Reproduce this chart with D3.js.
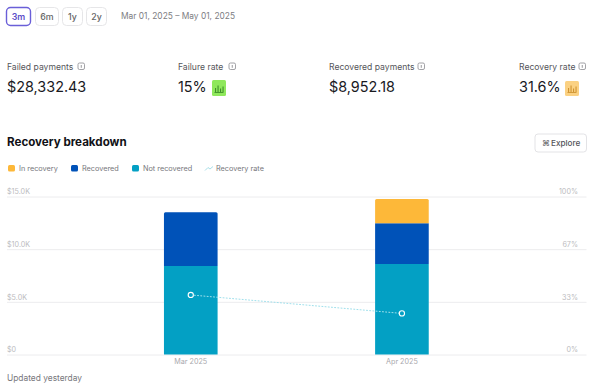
<!DOCTYPE html>
<html>
<head>
<meta charset="utf-8">
<script src="https://cdn.jsdelivr.net/npm/d3@7"></script>
<style>
  html, body { margin: 0; padding: 0; background: #fff; }
  svg { display: block; font-family: Inter, "Noto Sans", sans-serif; }
</style>
</head>
<body>
<svg id="chart" width="600" height="390"></svg>
<script>
// Values
let months = ["Mar 2025", "Apr 2025"];
let notRecovered = [8400, 8590];
let recovered = [5100, 3860];
let inRecovery = [0, 2310];
let recoveryRate = [37.7, 26];

let amountTicks = [0, 5000, 10000, 15000];
let amountLabels = ["$0", "$5.0K", "$10.0K", "$15.0K"];
let rateTicks = [0, 33.33, 66.67, 100];
let rateLabels = ["0%", "33%", "67%", "100%"];

let seriesKeys = ["Not recovered", "Recovered", "In recovery"];
let seriesColors = ["#03a0c4", "#0052b8", "#fdb839"];

let ranges = ["3m", "6m", "1y", "2y"];
let rangeX = [6, 35, 62, 86];
let rangeW = [24, 23, 20, 20];
let metricLabels = ["Failed payments", "Failure rate", "Recovered payments", "Recovery rate"];
let metricValues = ["$28,332.43", "15%", "$8,952.18", "31.6%"];
let metricX = [7, 178, 329, 519];

let legendLabels = ["In recovery", "Recovered", "Not recovered", "Recovery rate"];
let legendColors = ["#fdb839", "#0052b8", "#03a0c4"];
let legendX = [8, 71, 132];

let svg = d3.select("#chart");

function drawText(x, y, str, size, color, weight, anchor) {
    return svg.append("text")
        .attr("x", x).attr("y", y)
        .attr("dy", "0.35em")
        .attr("font-size", size)
        .attr("fill", color)
        .attr("font-weight", weight || 400)
        .attr("text-anchor", anchor || "start")
        .text(str);
}

// Range buttons at the top
ranges.forEach(function(r, i) {
    let active = i === 0;
    svg.append("rect")
        .attr("x", rangeX[i] + 0.5).attr("y", 7.5)
        .attr("width", rangeW[i]).attr("height", 18).attr("rx", 4)
        .attr("fill", "#fff")
        .attr("stroke", active ? "#6a5fd8" : "#e6e6e8")
        .attr("stroke-width", active ? 1.4 : 1);
    drawText(rangeX[i] + rangeW[i] / 2 + 0.5, 16.5, r, 8.8, active ? "#5b4fc9" : "#666", active ? 600 : 500, "middle");
});
drawText(121, 16.5, "Mar 01, 2025 – May 01, 2025", 8.4, "#7d7d82");

// Small info icon next to the metric labels
function infoIcon(x, y) {
    svg.append("rect")
        .attr("x", x).attr("y", y).attr("width", 6.5).attr("height", 6.5).attr("rx", 1.5)
        .attr("fill", "none").attr("stroke", "#8c8c90").attr("stroke-width", 0.8);
    svg.append("line")
        .attr("x1", x + 3.25).attr("x2", x + 3.25).attr("y1", y + 2).attr("y2", y + 4.8)
        .attr("stroke", "#8c8c90").attr("stroke-width", 0.9);
}

// Little bar chart badge next to the rates
function badge(x, y, w, h, bg, fg) {
    svg.append("rect")
        .attr("x", x).attr("y", y).attr("width", w).attr("height", h).attr("rx", 1.5)
        .attr("fill", bg);
    [[3, 4], [5.5, 6.5], [8, 3.5], [10.5, 5.5]].forEach(function(b) {
        svg.append("rect")
            .attr("x", x + b[0]).attr("y", y + h - 4 - b[1])
            .attr("width", 1.1).attr("height", b[1])
            .attr("fill", fg);
    });
    svg.append("rect")
        .attr("x", x + 2.5).attr("y", y + h - 4).attr("width", w - 5).attr("height", 0.9)
        .attr("fill", fg);
}

let infoX = [78, 229, 418, 579];
metricLabels.forEach(function(label, i) {
    drawText(metricX[i], 66.5, label, 8.6, "#55555a", 400);
    drawText(metricX[i], 87, metricValues[i], 14.4, "#1a1a1f", 400);
    infoIcon(infoX[i], 63);
});
badge(212, 80, 14, 16, "#8fe85c", "#3f8f2a");
badge(565, 81, 14, 15, "#fbd182", "#cf9331");

// Section heading and the Explore button
drawText(7, 142, "Recovery breakdown", 11.6, "#111116", 700);
svg.append("rect")
    .attr("x", 535).attr("y", 134).attr("width", 51.5).attr("height", 18).attr("rx", 3)
    .attr("fill", "#fff").attr("stroke", "#e3e3e6");
drawText(542, 143.5, "⌘", 8, "#55555a");
drawText(551, 143.5, "Explore", 8.2, "#55555a", 500);

// Legend
legendColors.forEach(function(c, i) {
    svg.append("rect")
        .attr("x", legendX[i]).attr("y", 165).attr("width", 7).attr("height", 6.5).attr("rx", 1.5)
        .attr("fill", c);
    drawText(legendX[i] + 11, 168.5, legendLabels[i], 7.3, "#77777c");
});
svg.append("path")
    .attr("d", d3.line()(d3.zip([205, 208, 210, 213], [170.5, 167.5, 169, 166.5])))
    .attr("fill", "none").attr("stroke", "#a9dfe8").attr("stroke-width", 1);
drawText(216, 168.5, legendLabels[3], 7.3, "#77777c");

// Scales
let baseY = 354.5, topY = 196.5;
let y = d3.scaleLinear().domain([0, 15000]).range([baseY, topY]);
let yRate = d3.scaleLinear().domain([0, 100]).range([baseY, topY]);
let x = d3.scaleBand().domain(months).range([85.2, 507.5]).paddingInner(0.746).paddingOuter(0.373);

// Left axis gives the gridlines, labels sit above them
let leftAxis = d3.axisRight(y)
    .tickValues(amountTicks)
    .tickSize(579.5)
    .tickFormat(function(d, i) { return amountLabels[i]; });
let gLeft = svg.append("g").attr("transform", "translate(7,0)").call(leftAxis);
gLeft.select(".domain").remove();
gLeft.selectAll(".tick line").attr("stroke", "#ececee");
gLeft.selectAll(".tick text")
    .attr("x", 0).attr("dy", "-0.35em")
    .attr("y", -0.2)
    .attr("text-anchor", "start")
    .attr("font-size", 7.2).attr("font-family", "Inter").attr("fill", "#bcbcc0");

let rightAxis = d3.axisLeft(yRate)
    .tickValues(rateTicks)
    .tickSize(0)
    .tickPadding(0)
    .tickFormat(function(d, i) { return rateLabels[i]; });
let gRight = svg.append("g").attr("transform", "translate(578,0)").call(rightAxis);
gRight.select(".domain").remove();
gRight.selectAll(".tick text")
    .attr("dy", "-0.35em").attr("y", -0.2)
    .attr("font-size", 7.2).attr("font-family", "Inter").attr("fill", "#bcbcc0");

// Stacked bars
let rows = months.map(function(m, i) {
    return { month: m, "Not recovered": notRecovered[i], "Recovered": recovered[i], "In recovery": inRecovery[i] };
});
let stacked = d3.stack().keys(seriesKeys)(rows);

// Only the topmost visible segment gets rounded corners
function barPath(d) {
    let x0 = x(d.data.month), w = x.bandwidth();
    let y0 = y(d[0]), y1 = y(d[1]);
    let isTop = d[1] === d.data["Not recovered"] + d.data["Recovered"] + d.data["In recovery"];
    let r = isTop ? 1.5 : 0;
    return "M" + x0 + "," + y0 + "V" + (y1 + r) + "Q" + x0 + "," + y1 + " " + (x0 + r) + "," + y1 +
        "H" + (x0 + w - r) + "Q" + (x0 + w) + "," + y1 + " " + (x0 + w) + "," + (y1 + r) + "V" + y0 + "Z";
}

svg.selectAll(".layer")
    .data(stacked)
    .enter().append("g")
    .attr("class", "layer")
    .attr("fill", function(d, i) { return seriesColors[i]; })
    .selectAll("path")
    .data(function(d) { return d.filter(function(s) { return s[1] > s[0]; }); })
    .enter().append("path")
    .attr("d", barPath);

// Month labels
svg.selectAll(".month")
    .data(months)
    .enter().append("text")
    .attr("class", "month")
    .attr("x", function(d) { return x(d) + x.bandwidth() / 2; })
    .attr("y", 361.5)
    .attr("dy", "0.35em")
    .attr("text-anchor", "middle")
    .attr("font-size", 7.2)
    .attr("fill", "#a9a9ae")
    .text(function(d) { return d; });

// Recovery rate line, dashed over white and bars
let rateLine = d3.line()
    .x(function(d, i) { return x(months[i]) + x.bandwidth() / 2; })
    .y(function(d) { return yRate(d); });
svg.append("path")
    .attr("d", rateLine(recoveryRate))
    .attr("fill", "none")
    .attr("stroke", "#9fe0ec")
    .attr("stroke-width", 1)
    .attr("stroke-dasharray", "1.8,1.4");
svg.selectAll(".rate-pt")
    .data(recoveryRate)
    .enter().append("circle")
    .attr("class", "rate-pt")
    .attr("cx", function(d, i) { return x(months[i]) + x.bandwidth() / 2; })
    .attr("cy", function(d) { return yRate(d); })
    .attr("r", 2.6)
    .attr("fill", "#03a0c4")
    .attr("stroke", "#fff")
    .attr("stroke-width", 1.1);

drawText(7, 378, "Updated yesterday", 8.4, "#77777c");
</script>
</body>
</html>
